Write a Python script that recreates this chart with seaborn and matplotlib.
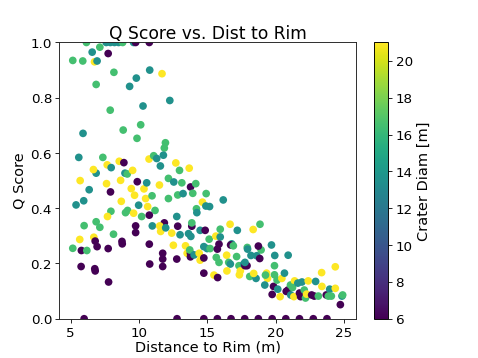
import numpy as np
import pandas as pd
import matplotlib
matplotlib.use("Agg")
import matplotlib.pyplot as plt
import seaborn as sns

P, T, G, Y = 6.0, 13.5, 16.5, 21.0

dist = [
    5.15, 5.88, 6.15, 6.57, 6.74, 6.93, 7.13, 7.74, 7.6, 7.9, 8.2, 8.5, 8.8, 9.6, 9.75, 10.75,
    6.86, 8.16, 10.78, 11.68, 9.8, 9.31, 12.25, 10.29, 7.89, 10.12, 8.84, 5.9, 9.85, 11.93, 11.85,
    5.59, 7.35, 7.67, 7.96, 8.55, 8.89, 6.86, 6.66, 5.69, 6.35, 5.39, 5.95, 7.62, 7.91, 8.65, 8.97,
    9.14, 9.53, 9.43, 9.87, 9.67, 8.7, 9.97, 10.36, 10.56, 10.48, 10.63, 10.95, 10.73, 11.07, 11.29,
    11.78, 11.56, 12.69, 12.96, 13.67, 12.15, 11.49, 12.54, 13.13, 13.77, 14.15, 12.15, 12.83, 13.22,
    13.93, 14.91, 16.16, 14.64, 14.2, 14.23, 15.16, 14.89,
    7.94, 9.01, 9.16, 9.6, 11.17, 10.19, 6.86, 7.13, 7.69, 5.98, 5.66, 5.78, 6.18, 5.15, 6.69, 6.79,
    6.93, 7.74, 5.76, 6.76, 6.79, 7.77, 8.13, 8.75, 8.77, 9.75, 9.75, 10.75, 10.97, 10.75, 10.78,
    11.85, 11.51, 11.58, 11.95, 12.83, 13.86, 12.76, 12.39, 13.0, 13.62, 13.79, 13.86, 12.51, 13.4,
    13.52, 11.73, 11.73, 11.73, 12.76, 13.76, 13.76, 13.71, 14.03,
    14.4, 14.47, 14.74, 14.47, 14.84, 14.74, 14.98, 15.13, 15.2, 15.62, 15.94, 15.85, 15.73, 15.65,
    15.94, 16.66, 16.78, 16.7, 16.9, 16.41, 16.56, 16.68, 15.85, 16.43, 14.74, 15.48, 15.75, 17.19,
    17.14, 17.31, 17.66, 17.34, 17.41, 17.75, 17.9, 17.75, 17.92, 17.94, 18.35, 18.19, 18.93, 18.61,
    18.85, 18.73, 18.83, 18.1, 18.56, 18.39, 19.33, 19.4, 19.25, 19.2, 19.69, 19.91, 19.93, 19.91,
    19.84, 19.74,
    20.32, 20.1, 20.45, 20.15, 20.64, 20.91, 20.77, 20.9, 21.08, 21.1, 21.33, 21.38, 21.23, 21.62,
    21.74, 21.82, 21.92, 22.18, 22.09, 22.38, 22.26, 22.63, 22.82, 22.92, 23.12, 23.36, 23.38, 23.7,
    23.95, 23.85, 24.07, 24.36, 24.36, 24.73, 24.85, 24.9,
    5.98, 12.78, 14.74, 15.73, 16.73, 17.73, 18.73, 19.74, 20.74, 21.74, 22.75, 23.75,
]

qscore = [
    0.935, 0.933, 1.0, 0.965, 0.93, 0.933, 0.983, 0.96, 1.0, 1.0, 1.0, 1.0, 1.0, 1.0, 1.0, 1.0,
    0.848, 0.892, 0.9, 0.887, 0.871, 0.841, 0.79, 0.77, 0.755, 0.702, 0.683, 0.671, 0.653, 0.637, 0.618,
    0.584, 0.584, 0.557, 0.547, 0.57, 0.565, 0.527, 0.54, 0.5, 0.467, 0.412, 0.427, 0.489, 0.459, 0.501, 0.527,
    0.524, 0.537, 0.471, 0.496, 0.447, 0.425, 0.411, 0.47, 0.492, 0.435, 0.406, 0.445, 0.578, 0.59, 0.58,
    0.592, 0.553, 0.564, 0.537, 0.545, 0.508, 0.484, 0.495, 0.492, 0.477, 0.489, 0.435, 0.448, 0.453,
    0.454, 0.453, 0.43, 0.422, 0.398, 0.384, 0.406, 0.408,
    0.389, 0.384, 0.392, 0.382, 0.392, 0.37, 0.351, 0.331, 0.37, 0.337, 0.287, 0.247, 0.247, 0.255, 0.295, 0.281,
    0.261, 0.254, 0.189, 0.181, 0.173, 0.133, 0.306, 0.28, 0.271, 0.336, 0.312, 0.375, 0.336, 0.27, 0.198,
    0.347, 0.336, 0.316, 0.329, 0.335, 0.335, 0.37, 0.31, 0.304, 0.308, 0.298, 0.347, 0.266, 0.264,
    0.237, 0.237, 0.216, 0.189, 0.216, 0.237, 0.224, 0.249, 0.231,
    0.237, 0.212, 0.22, 0.32, 0.32, 0.261, 0.254, 0.288, 0.254, 0.299, 0.296, 0.27, 0.252, 0.222,
    0.324, 0.342, 0.271, 0.267, 0.264, 0.23, 0.204, 0.198, 0.204, 0.173, 0.165, 0.158, 0.149, 0.32,
    0.225, 0.192, 0.198, 0.159, 0.173, 0.192, 0.192, 0.204, 0.258, 0.252, 0.323, 0.229, 0.249, 0.228,
    0.342, 0.263, 0.218, 0.153, 0.146, 0.164, 0.165, 0.146, 0.158, 0.122, 0.267, 0.192, 0.229, 0.159,
    0.117, 0.088,
    0.08, 0.14, 0.146, 0.107, 0.165, 0.23, 0.099, 0.104, 0.122, 0.086, 0.08, 0.137, 0.113, 0.129,
    0.093, 0.08, 0.133, 0.075, 0.104, 0.137, 0.089, 0.086, 0.082, 0.135, 0.082, 0.167, 0.117, 0.086,
    0.107, 0.082, 0.082, 0.188, 0.11, 0.051, 0.082, 0.086,
    0.0, 0.0, 0.0, 0.0, 0.0, 0.0, 0.0, 0.0, 0.0, 0.0, 0.0, 0.0,
]

diam = [
    G, G, G, T, Y, T, G, P, T, T, T, T, G, T, P, P,
    G, G, T, Y, T, T, T, T, G, G, G, T, G, G, G,
    T, G, Y, T, Y, P, T, Y, Y, T, T, T, Y, P, Y, T,
    G, Y, Y, P, Y, Y, T, Y, T, Y, Y, G, Y, G, T,
    T, T, Y, G, Y, G, Y, T, G, P, G, G, G, T,
    G, G, T, Y, G, T, T, T,
    G, G, G, Y, G, G, G, G, Y, G, Y, P, G, G, Y, P,
    P, P, P, P, P, P, G, P, P, P, P, P, T, P, P,
    P, Y, Y, T, P, P, T, Y, T, T, T, G, Y, Y,
    Y, P, P, P, P, P, P, G, T,
    Y, Y, P, T, P, T, T, G, G, Y, T, P, P, G,
    G, Y, T, P, G, Y, G, T, G, Y, P, Y, P, T,
    G, G, T, Y, Y, P, P, T, G, T, Y, T, G, T,
    G, P, P, G, T, Y, Y, Y, G, T, T, G, T, G,
    P, P,
    Y, G, Y, T, T, T, P, P, G, T, Y, Y, G, T,
    P, P, T, G, G, Y, Y, P, P, T, G, Y, Y, P,
    T, G, G, Y, Y, P, T, G,
    P, P, P, P, P, P, P, P, P, P, P, P,
]

df = pd.DataFrame({"dist": dist, "q": qscore, "diam": diam})

fig = plt.figure(figsize=(6.4, 4.8), dpi=74.7)
ax = fig.add_axes([0.124, 0.1095, 0.621, 0.7705])
norm = matplotlib.colors.Normalize(vmin=6, vmax=21)
sns.scatterplot(data=df, x="dist", y="q", hue="diam", palette="viridis",
                hue_norm=norm, legend=False, s=55, linewidth=0, ax=ax)
ax.set_ylim(0, 1.0)
ax.set_xticks([5, 10, 15, 20, 25])
ax.set_yticks([0.0, 0.2, 0.4, 0.6, 0.8, 1.0])
ax.set_title("Q Score vs. Dist to Rim", fontsize=16.5, pad=4)
ax.set_xlabel("Distance to Rim (m)", fontsize=14, labelpad=1)
ax.set_ylabel("Q Score", fontsize=14, labelpad=4)
ax.tick_params(labelsize=13)
for sp in ax.spines.values():
    sp.set_color("0.15")
    sp.set_linewidth(0.9)

cax = fig.add_axes([0.783, 0.1095, 0.0293, 0.7705])
sm = matplotlib.cm.ScalarMappable(norm=norm, cmap="viridis")
cb = fig.colorbar(sm, cax=cax)
cb.set_ticks([6, 8, 10, 12, 14, 16, 18, 20])
cb.ax.tick_params(labelsize=13)
cb.outline.set_linewidth(0.9)
cb.set_label("Crater Diam [m]", fontsize=14)

fig.savefig("out.png", dpi=74.7)
